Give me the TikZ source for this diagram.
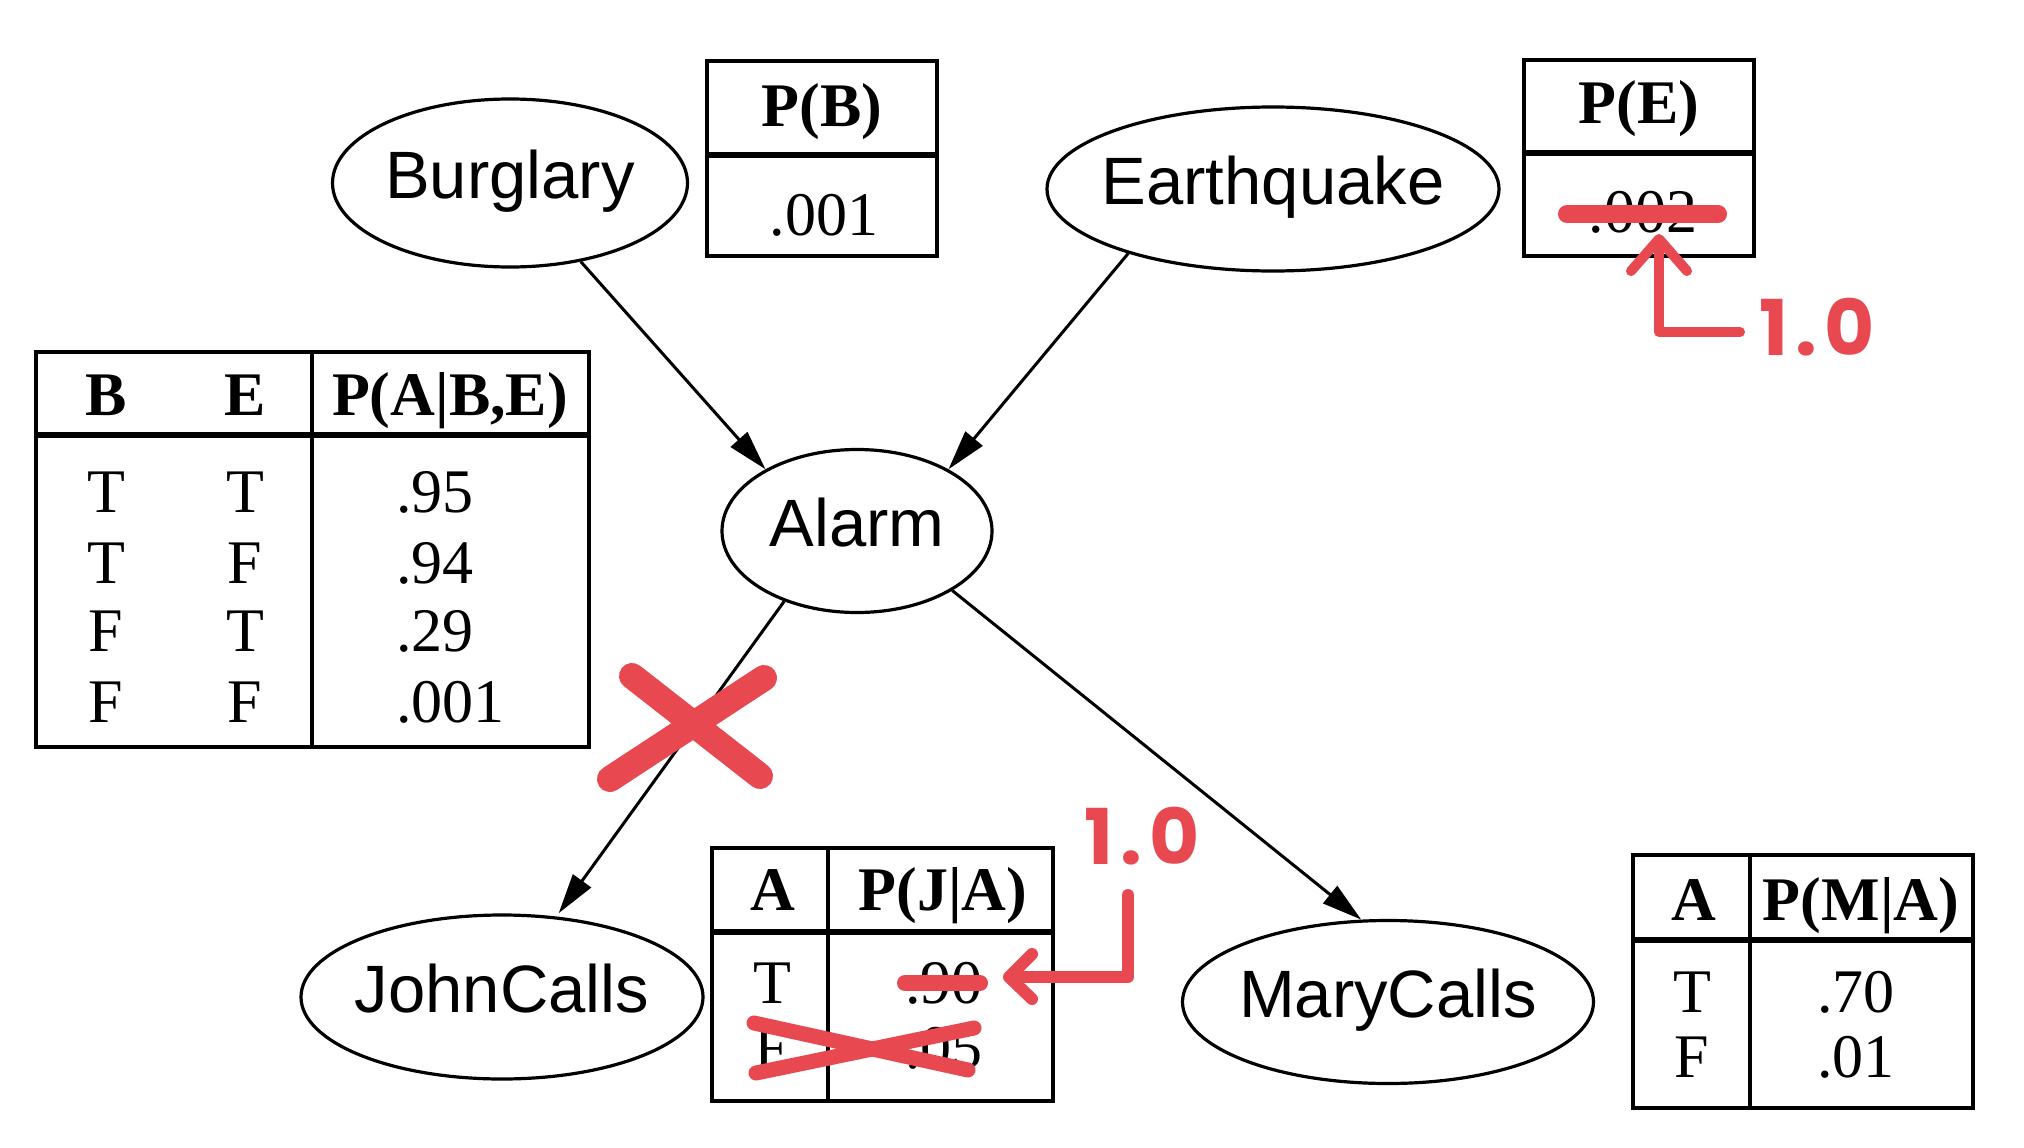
\documentclass[tikz,border=0pt]{standalone}
\usepackage{fontspec}
\setmainfont{Liberation Serif}
\newfontfamily\lsans{Liberation Sans}
\newfontfamily\hand{Poppins}
\usetikzlibrary{shapes.geometric,arrows.meta}
\definecolor{mark}{RGB}{232,72,80}
\newcommand{\redone}{1\kern7pt.\kern7pt0}
\begin{document}
\begin{tikzpicture}[x=1pt,y=-1pt,
  var/.style={ellipse,draw,line width=3.2pt,inner sep=0pt,text height=45pt,text depth=14pt,font=\lsans\fontsize{67}{80}\selectfont},
  tbl/.style={draw,line width=3.2pt},
  hline/.style={line width=6pt},
  cell/.style={anchor=base,inner sep=0pt,font=\fontsize{62}{72}\selectfont},
  hcell/.style={anchor=base,inner sep=0pt,font=\bfseries\fontsize{62}{72}\selectfont},
  vcell/.style={anchor=base west,inner sep=0pt,font=\fontsize{62}{72}\selectfont},
  edge/.style={line width=3pt,-{Triangle[length=40pt,width=22pt]}},
  redline/.style={draw=mark,line cap=round,line join=round},
  redtext/.style={text=mark,font=\hand\bfseries\fontsize{77}{84}\selectfont,inner sep=0pt}
]
\fill[white] (0,0) rectangle (2024,1148);
\useasboundingbox (0,0) rectangle (2024,1148);

% variables
\node[var,minimum width=355pt,minimum height=168pt] (Burglary) at (510,183) {\makebox[0pt]{Burglary}};
\node[var,minimum width=452pt,minimum height=164pt] (Earthquake) at (1273,189) {\makebox[0pt]{Earthquake}};
\node[var,minimum width=270pt,minimum height=163pt] (Alarm) at (857,531) {\makebox[0pt]{Alarm}};
\node[var,minimum width=402pt,minimum height=164pt] (JohnCalls) at (502,997) {\makebox[0pt]{JohnCalls}};
\node[var,minimum width=411pt,minimum height=163pt] (MaryCalls) at (1388,1002) {\makebox[0pt]{MaryCalls}};

% edges
\draw[edge] (Burglary.-48.5) -- (Alarm.146);
\draw[edge] (Earthquake.-156.6) -- (Alarm.34);
\draw[edge,shorten >=4pt] (Alarm.-136) -- (JohnCalls.56);
\draw[edge] (Alarm.-32) -- (MaryCalls.108);

% P(B)
\draw[tbl] (707,61) rectangle (937,256);
\draw[hline] (707,155) -- (937,155);
\node[hcell] (pbh) at (822,126) {P(B)};
\node[cell] (pbv) at (824,235) {.001};

% P(E)
\draw[tbl] (1524,60) rectangle (1754,256);
\draw[hline] (1524,153) -- (1754,153);
\node[hcell] (peh) at (1639,123) {P(E)};
\node[cell] (pev) at (1643,232) {.002};

% P(A|B,E)
\draw[tbl] (36,352) rectangle (589,747);
\draw[hline] (36,435) -- (589,435);
\draw[tbl] (312,352) -- (312,747);
\node[hcell] (hb) at (106,415) {B};
\node[hcell] (he) at (245,415) {E};
\node[hcell] (hp) at (450,415) {P(A|B,E)};
\node[cell] (b1) at (106,512) {T}; \node[cell] (e1) at (245,512) {T}; \node[vcell] (v1) at (396,512) {.95};
\node[cell] (b2) at (106,583) {T}; \node[cell] (e2) at (245,583) {F}; \node[vcell] (v2) at (396,583) {.94};
\node[cell] (b3) at (106,651) {F}; \node[cell] (e3) at (245,651) {T}; \node[vcell] (v3) at (396,651) {.29};
\node[cell] (b4) at (106,722) {F}; \node[cell] (e4) at (245,722) {F}; \node[vcell] (v4) at (396,722) {.001};

% P(J|A)
\draw[tbl] (712,848) rectangle (1053,1101);
\draw[hline] (712,932) -- (1053,932);
\draw[tbl] (828,848) -- (828,1101);
\node[hcell] (jha) at (773,910) {A};
\node[hcell] (jhp) at (943,910) {P(J|A)};
\node[cell] (ja1) at (772,1003) {T}; \node[vcell] (jv1) at (905,1003) {.90};
\node[cell] (ja2) at (772,1068) {F}; \node[vcell] (jv2) at (905,1068) {.05};

% P(M|A)
\draw[tbl] (1633,855) rectangle (1973,1108);
\draw[hline] (1633,940) -- (1973,940);
\draw[tbl] (1750,855) -- (1750,1108);
\node[hcell] (mha) at (1694,920) {A};
\node[hcell] (mhp) at (1861,920) {P(M|A)};
\node[cell] (ma1) at (1692,1012) {T}; \node[vcell] (mv1) at (1817,1012) {.70};
\node[cell] (ma2) at (1692,1077) {F}; \node[vcell] (mv2) at (1817,1077) {.01};

% red annotations
\draw[redline,line width=18pt] (1567,214) -- (1718,214);
\draw[redline,line width=10pt] (1740,332) -- (1659,332) -- (1659,240);
\draw[redline,line width=10pt] (1631,271) -- (1659,239) -- (1687,271);
\node[redtext] (e10) at (1817,327) {\redone};

\draw[redline,line width=26pt] (632,676) -- (760,776);
\draw[redline,line width=26pt] (610,779) -- (764,678);

\draw[redline,line width=16pt] (905,983) -- (980,983);
\draw[redline,line width=15pt] (754,1023) -- (968,1070);
\draw[redline,line width=15pt] (756,1073) -- (974,1028);
\draw[redline,line width=12pt] (1128,895) -- (1128,977) -- (1012,977);
\draw[redline,line width=12pt] (1032,954) -- (1009,977) -- (1032,999);
\node[redtext] (j10) at (1142,836) {\redone};
\end{tikzpicture}
\end{document}
